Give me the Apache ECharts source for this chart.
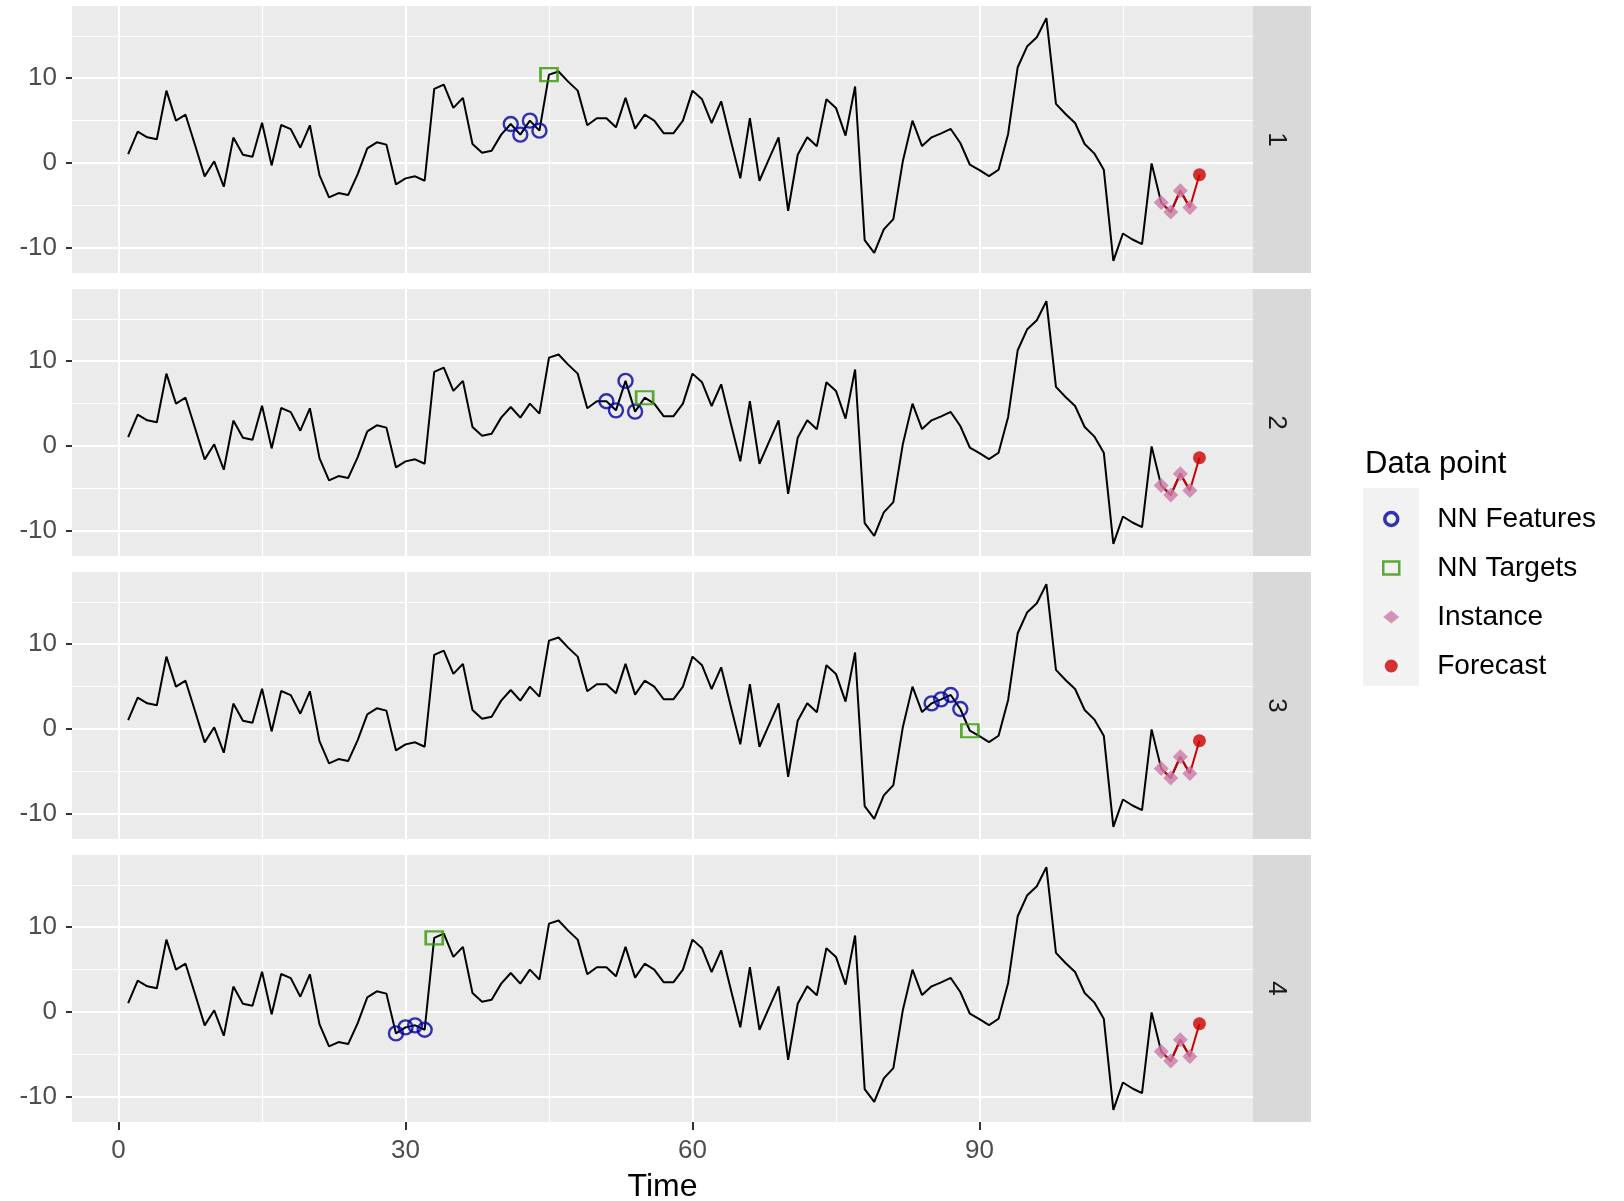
<!DOCTYPE html>
<html>
<head>
<meta charset="utf-8">
<script src="https://cdn.jsdelivr.net/npm/echarts@6/dist/echarts.min.js"></script>
<style>
  html, body { margin: 0; padding: 0; background: #ffffff; }
  #chart { width: 1624px; height: 1201px; }
</style>
</head>
<body>
<div id="chart"></div>
<script>
// Observed series, one value per time step starting at t = 1
const seriesValues = [
  1.06, 3.7, 3.03, 2.8, 8.54, 5.0, 5.7, 2.1, -1.57, 0.2,
  -2.8, 3.0, 0.98, 0.75, 4.76, -0.28, 4.49, 4.0, 1.81, 4.45,
  -1.42, -4.06, -3.54, -3.78, -1.3, 1.73, 2.44, 2.17, -2.52, -1.81,
  -1.57, -2.09, 8.74, 9.25, 6.5, 7.68, 2.24, 1.22, 1.46, 3.35,
  4.6, 3.35, 5.0, 3.82, 10.43, 10.8, 9.6, 8.54, 4.45, 5.28,
  5.28, 4.21, 7.68, 4.06, 5.7, 5.0, 3.5, 3.5, 5.0, 8.54,
  7.52, 4.72, 7.28, 2.7, -1.81, 5.28, -2.09, 0.5, 3.03, -5.63,
  0.98, 3.03, 1.97, 7.52, 6.5, 3.23, 9.02, -9.09, -10.6, -7.83,
  -6.61, 0.28, 5.0, 2.0, 3.03, 3.5, 4.02, 2.36, -0.2, -0.83,
  -1.54, -0.79, 3.43, 11.3, 13.78, 14.84, 17.09, 6.97, 5.79, 4.72,
  2.24, 1.14, -0.79, -11.54, -8.31, -9.02, -9.57, -0.04, -4.65, -5.79,
  -3.27, -5.24
];
const startTime = 1;

// Facets: nearest-neighbour feature windows and their targets
const panelLabels = ['1', '2', '3', '4'];
const featureTimes = [
  [41, 42, 43, 44],
  [51, 52, 53, 54],
  [85, 86, 87, 88],
  [29, 30, 31, 32]
];
const targetTimes = [45, 55, 89, 33];

// Instance window and one-step forecast
const instanceTimes = [109, 110, 111, 112];
const forecastTime = 113;
const forecastValue = -1.38;

// Axis breaks
const xTickValues = [0, 30, 60, 90];
const xMinorBreaks = [15, 45, 75, 105];
const yTickValues = [-10, 0, 10];
const yMinorBreaks = [-5, 5, 15];

const legendTitle = 'Data point';
const legendLabels = ['NN Features', 'NN Targets', 'Instance', 'Forecast'];
const xAxisTitle = 'Time';

// ---- styling / layout ----
const FONT = '"Liberation Sans", Arial, Helvetica, sans-serif';
const COL_FEAT = '#0000A0';
const COL_TARGET = '#339900';
const COL_INST = '#CC79A7';
const COL_FC = '#CC0000';
const TICK_COL = '#333333';
const panelLeft = 72;
const panelWidth = 1181;
const panelTops = [6, 289, 572, 855];
const panelHeight = 267;
const stripWidth = 58;
const X_MIN = -4.87, X_MAX = 118.6;
const Y_MIN = -12.97, Y_MAX = 18.52;

const valueAt = t => seriesValues[t - startTime];
const pointAt = t => [t, valueAt(t)];

const grids = [], xAxes = [], yAxes = [], series = [], graphics = [];

panelTops.forEach((top, i) => {
  const isBottom = i === panelTops.length - 1;
  grids.push({
    left: panelLeft, top: top, width: panelWidth, height: panelHeight,
    show: true, backgroundColor: '#EBEBEB', borderWidth: 0,
    containLabel: false, outerBoundsMode: 'none'
  });
  xAxes.push({
    type: 'value', gridIndex: i, min: X_MIN, max: X_MAX, position: 'bottom',
    axisLine: { show: true, onZero: false, lineStyle: { color: 'rgba(0,0,0,0)', width: 1 } },
    splitLine: { show: false },
    axisTick: {
      show: isBottom, customValues: xTickValues, length: 8,
      lineStyle: { color: TICK_COL, width: 2 }
    },
    axisLabel: {
      show: isBottom, customValues: xTickValues, margin: 16,
      fontFamily: FONT, fontSize: 26, color: '#4D4D4D'
    },
    name: isBottom ? xAxisTitle : '',
    nameLocation: 'middle', nameGap: 49,
    nameTextStyle: { fontFamily: FONT, fontSize: 32, color: '#000000' }
  });
  yAxes.push({
    type: 'value', gridIndex: i, min: Y_MIN, max: Y_MAX,
    axisLine: { show: true, onZero: false, lineStyle: { color: 'rgba(0,0,0,0)', width: 1 } },
    splitLine: { show: false },
    axisTick: {
      show: true, customValues: yTickValues, length: 6,
      lineStyle: { color: TICK_COL, width: 2 }
    },
    axisLabel: {
      show: true, customValues: yTickValues, margin: 15,
      padding: [13, 0, 0, 0],
      fontFamily: FONT, fontSize: 26, color: '#4D4D4D'
    }
  });

  // panel grid lines (major + minor)
  const gridLines = [];
  xTickValues.forEach(v => gridLines.push({ xAxis: v, lineStyle: { color: '#FFFFFF', width: 2, type: 'solid' } }));
  xMinorBreaks.forEach(v => gridLines.push({ xAxis: v, lineStyle: { color: '#FFFFFF', width: 1.2, type: 'solid' } }));
  yTickValues.forEach(v => gridLines.push({ yAxis: v, lineStyle: { color: '#FFFFFF', width: 2, type: 'solid' } }));
  yMinorBreaks.forEach(v => gridLines.push({ yAxis: v, lineStyle: { color: '#FFFFFF', width: 1.2, type: 'solid' } }));
  series.push({
    type: 'line', xAxisIndex: i, yAxisIndex: i, data: [], z: 1, silent: true,
    markLine: {
      silent: true, symbol: ['none', 'none'], animation: false, z: 1,
      label: { show: false }, emphasis: { disabled: true },
      data: gridLines
    }
  });

  // observed series
  series.push({
    type: 'line', xAxisIndex: i, yAxisIndex: i, z: 3, silent: true,
    data: seriesValues.map((v, k) => [k + startTime, v]),
    symbol: 'none', lineStyle: { color: '#000000', width: 2 },
    emphasis: { disabled: true }
  });
  // instance -> forecast path
  series.push({
    type: 'line', xAxisIndex: i, yAxisIndex: i, z: 4, silent: true,
    data: instanceTimes.map(pointAt).concat([[forecastTime, forecastValue]]),
    symbol: 'none', lineStyle: { color: COL_FC, width: 2 },
    emphasis: { disabled: true }
  });
  series.push({
    name: legendLabels[0], type: 'scatter', xAxisIndex: i, yAxisIndex: i, z: 5,
    data: featureTimes[i].map(pointAt),
    symbol: 'circle', symbolSize: 14,
    itemStyle: { color: 'rgba(0,0,0,0)', borderColor: COL_FEAT, borderWidth: 2.4 },
    emphasis: { disabled: true }
  });
  series.push({
    name: legendLabels[1], type: 'scatter', xAxisIndex: i, yAxisIndex: i, z: 5,
    data: [pointAt(targetTimes[i])],
    symbol: 'rect', symbolSize: [17, 13],
    itemStyle: { color: 'rgba(0,0,0,0)', borderColor: COL_TARGET, borderWidth: 2.4 },
    emphasis: { disabled: true }
  });
  series.push({
    name: legendLabels[2], type: 'scatter', xAxisIndex: i, yAxisIndex: i, z: 6,
    data: instanceTimes.map(pointAt),
    symbol: 'diamond', symbolSize: 15,
    itemStyle: { color: COL_INST },
    emphasis: { disabled: true }
  });
  series.push({
    name: legendLabels[3], type: 'scatter', xAxisIndex: i, yAxisIndex: i, z: 6,
    data: [[forecastTime, forecastValue]],
    symbol: 'circle', symbolSize: 13,
    itemStyle: { color: COL_FC },
    emphasis: { disabled: true }
  });

  // facet strip on the right
  graphics.push({
    type: 'rect', silent: true, z: 0,
    shape: { x: panelLeft + panelWidth, y: top, width: stripWidth, height: panelHeight },
    style: { fill: '#D9D9D9' }
  });
  graphics.push({
    type: 'text', silent: true, z: 1,
    x: panelLeft + panelWidth + 23, y: top + panelHeight / 2,
    rotation: -Math.PI / 2,
    style: {
      text: panelLabels[i], font: '26px ' + FONT, fill: '#1A1A1A',
      align: 'center', verticalAlign: 'middle'
    }
  });
});

// legend key background + title
graphics.push({
  type: 'rect', silent: true, z: 0,
  shape: { x: 1363, y: 488, width: 56, height: 198 },
  style: { fill: '#F2F2F2' }
});
graphics.push({
  type: 'text', silent: true, z: 1,
  x: 1365, y: 464,
  style: {
    text: legendTitle, font: '31px ' + FONT, fill: '#000000',
    align: 'left', verticalAlign: 'middle'
  }
});

const option = {
  animation: false,
  backgroundColor: '#FFFFFF',
  grid: grids,
  xAxis: xAxes,
  yAxis: yAxes,
  series: series,
  legend: {
    orient: 'vertical', left: 1382, top: 504, padding: 0,
    itemWidth: 16, itemHeight: 13, itemGap: 19,
    selectedMode: false,
    textStyle: {
      fontFamily: FONT, fontSize: 28, color: '#000000',
      lineHeight: 30, padding: [0, 0, 0, 33]
    },
    data: [
      { name: legendLabels[0], icon: 'circle',
        itemStyle: { color: 'rgba(0,0,0,0)', borderColor: COL_FEAT, borderWidth: 3.5 } },
      { name: legendLabels[1], icon: 'rect',
        itemStyle: { color: 'rgba(0,0,0,0)', borderColor: COL_TARGET, borderWidth: 2.5 } },
      { name: legendLabels[2], icon: 'diamond',
        itemStyle: { color: COL_INST, borderWidth: 0 } },
      { name: legendLabels[3], icon: 'circle',
        itemStyle: { color: COL_FC, borderWidth: 0 } }
    ]
  },
  graphic: graphics
};

const chart = echarts.init(document.getElementById('chart'), null, { renderer: 'canvas' });
chart.setOption(option);
</script>
</body>
</html>
